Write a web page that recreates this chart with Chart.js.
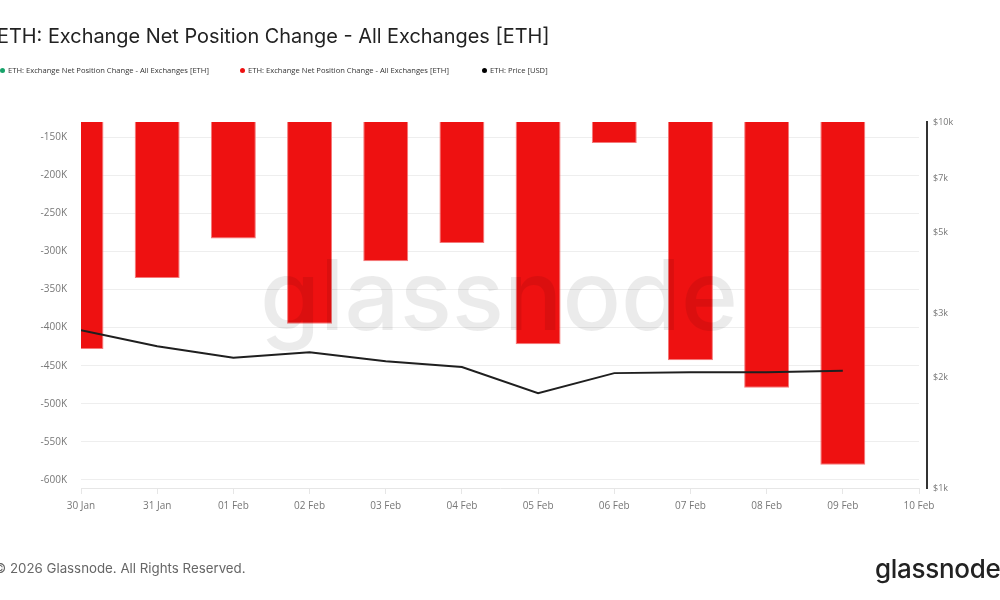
<!DOCTYPE html>
<html>
<head>
<meta charset="utf-8">
<script src="https://cdn.jsdelivr.net/npm/chart.js@4"></script>
<style>
  html, body { margin: 0; padding: 0; background: #fff; }
  #wrap { position: relative; width: 1000px; height: 600px; overflow: hidden; font-family: Inter, "Open Sans", sans-serif; }
  #chartBox { position: absolute; left: 0; top: 0; width: 1000px; height: 600px; }
  .title { position: absolute; left: -3px; top: 24px; font-size: 19.9px; color: #222; white-space: nowrap; }
  .legend { position: absolute; top: 65px; font-family: "Open Sans", sans-serif; font-size: 7.6px; color: #333; white-space: nowrap; }
  .legend span.dot { display: inline-block; width: 5px; height: 5px; border-radius: 50%; margin-right: 3px; vertical-align: 0px; }
  .footer { position: absolute; left: -6px; top: 560px; font-size: 13.3px; color: #666; white-space: nowrap; }
  .logo { position: absolute; left: 875px; top: 553px; font-size: 26px; font-weight: 500; color: #222; letter-spacing: -0.3px; white-space: nowrap; }
</style>
</head>
<body>
<div id="wrap">
  <div id="chartBox"><canvas id="netChart"></canvas></div>
  <div class="title">ETH: Exchange Net Position Change - All Exchanges [ETH]</div>
  <div class="legend" style="left:0px"><span class="dot" style="background:#18a36a"></span>ETH: Exchange Net Position Change - All Exchanges [ETH]</div>
  <div class="legend" style="left:240px"><span class="dot" style="background:#ee1111"></span>ETH: Exchange Net Position Change - All Exchanges [ETH]</div>
  <div class="legend" style="left:482px"><span class="dot" style="background:#000"></span>ETH: Price [USD]</div>
  <div class="footer">© 2026 Glassnode. All Rights Reserved.</div>
  <div class="logo">glassnode</div>
</div>
<script>
// ── Data ────────────────────────────────────────────────────
const days = ['30 Jan', '31 Jan', '01 Feb', '02 Feb', '03 Feb', '04 Feb', '05 Feb', '06 Feb', '07 Feb', '08 Feb', '09 Feb', '10 Feb'];
const netPosition = [-428000, -335000, -283000, -395000, -313000, -289000, -422000, -158000, -443000, -479000, -580000];
const priceUsd = [2700, 2440, 2270, 2350, 2220, 2140, 1815, 2060, 2070, 2070, 2090];
const leftTicks = [-150000, -200000, -250000, -300000, -350000, -400000, -450000, -500000, -550000, -600000];
const rightTicks = [1000, 2000, 3000, 5000, 7000, 10000];

const tickFont = { family: 'Open Sans', size: 10 };

// watermark drawn over the bars, plus the offset right axis line
const extras = {
    id: 'extras',
    afterDatasetsDraw(chart) {
        const ctx = chart.ctx;
        ctx.save();
        ctx.font = '500 97px Inter';
        ctx.fillStyle = 'rgba(0,0,0,0.08)';
        ctx.textAlign = 'center';
        ctx.textBaseline = 'alphabetic';
        ctx.fillText('glassnode', 499, 330);
        ctx.restore();
    },
    afterDraw(chart) {
        const { ctx, chartArea } = chart;
        ctx.save();
        ctx.strokeStyle = '#333';
        ctx.lineWidth = 2;
        ctx.beginPath();
        ctx.moveTo(927, chartArea.top - 1);
        ctx.lineTo(927, chartArea.bottom + 1);
        ctx.stroke();
        ctx.restore();
    }
};

const ctx = document.getElementById('netChart').getContext('2d');
new Chart(ctx, {
    type: 'bar',
    data: {
        labels: days,
        datasets: [{
            type: 'line',
            label: 'ETH: Price [USD]',
            data: priceUsd,
            yAxisID: 'y2',
            borderColor: '#1f1f1f',
            borderWidth: 2,
            pointRadius: 0,
            tension: 0,
            order: 0,
            clip: 0
        },
        {
            label: 'ETH: Exchange Net Position Change - All Exchanges [ETH]',
            data: netPosition,
            yAxisID: 'y',
            backgroundColor: '#ee1111',
            borderColor: '#f47a7a',
            borderWidth: 1,
            barPercentage: 0.59,
            categoryPercentage: 1,
            order: 1,
            clip: 0
        }]
    },
    options: {
        responsive: true,
        maintainAspectRatio: false,
        animation: false,
        layout: { padding: { top: 122, left: 0, right: 0, bottom: 0 } },
        plugins: {
            legend: { display: false },
            tooltip: { enabled: false }
        },
        scales: {
            x: {
                offset: false,
                afterFit: s => { s.height = 112; },
                grid: {
                    offset: false,
                    drawOnChartArea: false,
                    color: '#e6e6e6',
                    tickLength: 6
                },
                border: { display: true, color: '#e6e6e6' },
                ticks: {
                    color: '#777',
                    font: tickFont,
                    padding: 6,
                    maxRotation: 0,
                    autoSkip: false
                }
            },
            y: {
                position: 'left',
                min: -610500,
                max: -130300,
                afterFit: s => { s.width = 81; },
                afterBuildTicks: s => { s.ticks = leftTicks.map(v => ({ value: v })); },
                grid: {
                    color: '#eeeeee',
                    drawTicks: false
                },
                border: { display: false },
                ticks: {
                    color: '#777',
                    font: tickFont,
                    padding: 14,
                    callback: v => (v / 1000) + 'K'
                }
            },
            y2: {
                type: 'logarithmic',
                position: 'right',
                min: 1000,
                max: 10000,
                afterFit: s => { s.width = 81; },
                afterBuildTicks: s => { s.ticks = rightTicks.map(v => ({ value: v })); },
                grid: { drawOnChartArea: false, drawTicks: false },
                border: { display: false },
                ticks: {
                    color: '#777',
                    font: { family: 'Open Sans', size: 9 },
                    padding: 14,
                    callback: v => '$' + (v / 1000) + 'k'
                }
            }
        }
    },
    plugins: [extras]
});
</script>
</body>
</html>
